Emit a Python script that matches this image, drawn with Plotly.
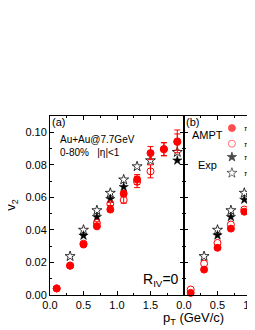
import plotly.graph_objects as go

# ---- data ----
pt_a = [0.1, 0.3, 0.5, 0.7, 0.9, 1.1, 1.3, 1.5, 1.7, 1.9]
ampt_pip_a = [0.0040, 0.0180, 0.0310, 0.0422, 0.0525, 0.0623, 0.0710, 0.0872, 0.0897, 0.0944]
ampt_pip_a_err = [0.0003, 0.0004, 0.0005, 0.0007, 0.0010, 0.0015, 0.0030, 0.0040, 0.0040, 0.0070]
ampt_pim_a = [0.0041, 0.0181, 0.0316, 0.0443, 0.0560, 0.0584, 0.0695, 0.0760, 0.0895, 0.0940]
ampt_pim_a_err = [0.0003, 0.0004, 0.0005, 0.0007, 0.0010, 0.0020, 0.0035, 0.0040, 0.0040, 0.0050]
exp_pip_a = [None, None, 0.0365, 0.0480, 0.0590, 0.0664, None, None, None, 0.0827]
exp_pim_a = [None, 0.0238, 0.0400, 0.0520, 0.0627, 0.0709, 0.0790, 0.0827, None, 0.0878]

pt_b = [0.1, 0.3, 0.5, 0.7, 0.9]
ampt_pip_b = [0.0013, 0.0156, 0.0290, 0.0408, 0.0512]
ampt_pim_b = [0.0034, 0.0193, 0.0320, 0.0433, 0.0525]
exp_pip_b = [None, None, 0.0367, 0.0480, 0.0586]
exp_pim_b = [None, 0.0238, 0.0400, 0.0520, 0.0627]

legend_x = [0.715, 0.715, 0.715, 0.715]
legend_y = [0.1026, 0.0930, 0.0848, 0.0750]
legend_labels = ["π<sup>+</sup>", "π<sup>−</sup>", "π<sup>+</sup>", "π<sup>−</sup>"]

RED = "#ff0000"
fig = go.Figure()

def add(x, y, xa, ya, symbol, color, size, err=None, lw=1):
    fig.add_trace(go.Scatter(
        x=x, y=y, xaxis=xa, yaxis=ya, mode="markers",
        marker=dict(symbol=symbol, color=color, size=size, line=dict(color=color, width=lw)),
        error_y=(dict(type="data", array=err, color=RED, thickness=1, width=3) if err else None),
        showlegend=False, cliponaxis=False))

# panel a
add(pt_a, exp_pim_a, "x", "y", "star-open", "black", 7.5, lw=0.8)
add(pt_a, exp_pip_a, "x", "y", "star", "black", 7, lw=0.5)
add(pt_a, ampt_pim_a, "x", "y", "circle-open", RED, 7, err=ampt_pim_a_err)
add(pt_a, ampt_pip_a, "x", "y", "circle", RED, 7, err=ampt_pip_a_err)
# panel b
add(pt_b, exp_pim_b, "x2", "y2", "star-open", "black", 7.5, lw=0.8)
add(pt_b, exp_pip_b, "x2", "y2", "star", "black", 7, lw=0.5)
add(pt_b, ampt_pim_b, "x2", "y2", "circle-open", RED, 7)
add(pt_b, ampt_pip_b, "x2", "y2", "circle", RED, 7)
# legend symbols
fig.add_trace(go.Scatter(
    x=legend_x, y=legend_y, xaxis="x2", yaxis="y2", mode="markers",
    marker=dict(symbol=["circle", "circle-open", "star", "star-open"],
                color=[RED, RED, "black", "black"], size=[7, 7, 7, 7.5],
                line=dict(color=[RED, RED, "black", "black"], width=0.8)),
    showlegend=False, cliponaxis=False))

FONT = "Liberation Sans, Arial, sans-serif"
# page has an 8px body margin; figure coordinates = page coordinates - 8
L, T, B = 42.0, 108.0, 34.5
FW, FH = 247, 322
W = FW - L
H = FH - T - B
split = 134.0 / W
axis_common = dict(showline=True, linecolor="black", linewidth=1, ticks="inside",
                   ticklen=4, tickcolor="black", showgrid=False, zeroline=False,
                   ticklabeloverflow="allow",
                   tickfont=dict(family=FONT, size=11, color="black"))

fig.update_layout(
    width=FW, height=FH,
    margin=dict(l=L, r=0, t=T, b=B, autoexpand=False),
    plot_bgcolor="white", paper_bgcolor="white",
    xaxis=dict(domain=[0, split], range=[0, 2.0], tickvals=[0, 0.5, 1.0, 1.5],
               ticktext=["0.0", "0.5", "1.0", "1.5"], mirror="allticks", anchor="y",
               minor=dict(ticks="inside", ticklen=2, dtick=0.25, tick0=0, tickcolor="black"),
               **axis_common),
    yaxis=dict(domain=[0, 1], range=[0, 0.11], tickvals=[0, 0.02, 0.04, 0.06, 0.08, 0.10],
               ticktext=["0.00", "0.02", "0.04", "0.06", "0.08", "0.10"], mirror="allticks",
               anchor="x",
               minor=dict(ticks="inside", ticklen=2, dtick=0.01, tick0=0, tickcolor="black"),
               **axis_common),
    xaxis2=dict(domain=[split, 1], range=[0, (W - 134.0) / 67.0], tickvals=[0, 0.5, 1.0],
                ticktext=["0.0", "0.5", "1.0"], mirror="allticks", anchor="y2",
                minor=dict(ticks="inside", ticklen=2, dtick=0.25, tick0=0, tickcolor="black"),
                **axis_common),
    yaxis2=dict(domain=[0, 1], range=[0, 0.11], tickvals=[0, 0.02, 0.04, 0.06, 0.08, 0.10],
                showticklabels=False, anchor="x2", mirror=False,
                minor=dict(ticks="inside", ticklen=2, dtick=0.01, tick0=0, tickcolor="black"),
                **axis_common),
)

def ann(text, x, y, size, xanchor="left", yanchor="middle", xref="paper", yref="paper", angle=0):
    fig.add_annotation(text=text, x=x, y=y, xref=xref, yref=yref, showarrow=False,
                       xanchor=xanchor, yanchor=yanchor, textangle=angle,
                       font=dict(family=FONT, size=size, color="black"))

# convert page pixel coordinates to paper coordinates
def px(xp): return (xp - 8 - L) / W
def py(yp): return (FH - B - (yp - 8)) / H

ann("(a)", px(50), py(122), 11)
ann("(b)", px(184), py(122), 11)
ann("Au+Au@7.7GeV", px(58), py(140), 10)
ann("0-80%   |η|<1", px(58), py(153), 10)
ann("R<sub>IV</sub>=0", px(141), py(280), 14)
ann("AMPT", px(190), py(135), 11)
ann("Exp", px(196), py(165), 11)
for yy, lab in zip(legend_y, legend_labels):
    ann(lab, 0.87, yy, 8, xref="x2", yref="y2")
ann("v<sub>2</sub>", px(12), py(205), 13, xanchor="center", angle=-90)
ann("p<sub>T</sub> (GeV/c)", px(193), py(319), 13, xanchor="center")

fig.write_html("out.html")
